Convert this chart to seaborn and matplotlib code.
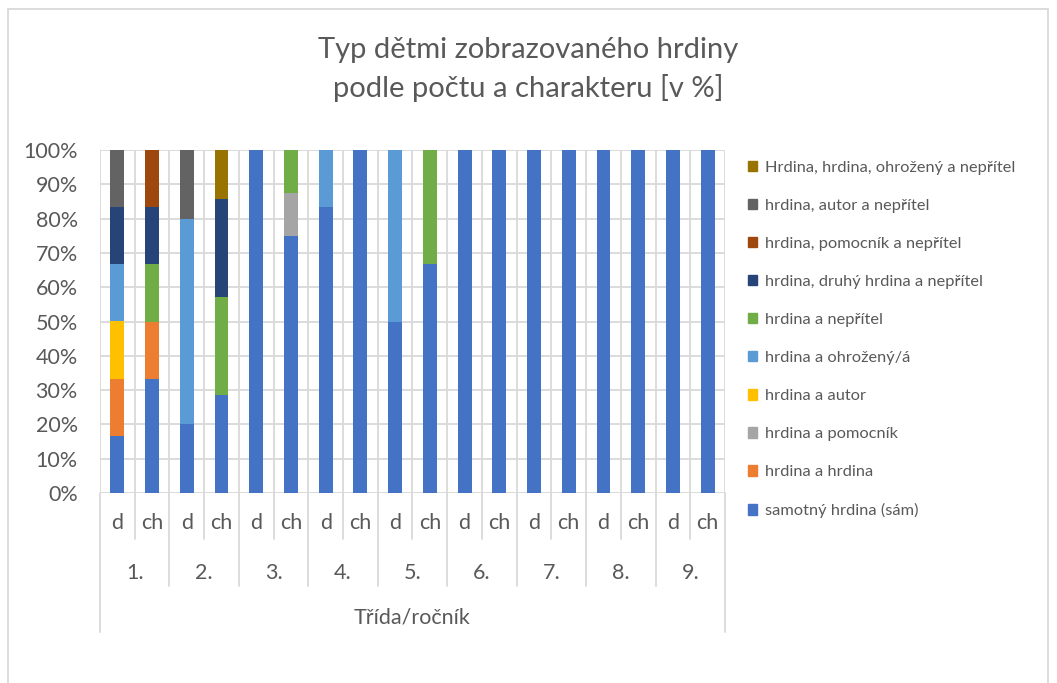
import matplotlib
matplotlib.use("Agg")
import matplotlib.pyplot as plt
import matplotlib.patches as mpatches
import matplotlib.transforms as mtransforms
import numpy as np
import pandas as pd
import seaborn as sns

# ---- data ----
classes = ["1.", "2.", "3.", "4.", "5.", "6.", "7.", "8.", "9."]
groups = ["d", "ch"]

series_names = [
    "samotný hrdina (sám)",
    "hrdina a hrdina",
    "hrdina a pomocník",
    "hrdina a autor",
    "hrdina a ohrožený/á",
    "hrdina a nepřítel",
    "hrdina, druhý hrdina a nepřítel",
    "hrdina, pomocník a nepřítel",
    "hrdina, autor a nepřítel",
    "Hrdina, hrdina, ohrožený a nepřítel",
]
series_colors = ["#4472C4", "#ED7D31", "#A5A5A5", "#FFC000", "#5B9BD5",
                 "#70AD47", "#264478", "#9E480E", "#636363", "#997300"]

#                 1d     1ch    2d  2ch    3d   3ch   4d    4ch  5d  5ch   6d   6ch  7d   7ch  8d   8ch  9d   9ch
samotny      = [16.67, 33.33, 20, 28.57, 100, 75.0, 83.33, 100, 50, 66.67, 100, 100, 100, 100, 100, 100, 100, 100]
hrdina_hrd   = [16.67, 16.67, 0, 0, 0, 0, 0, 0, 0, 0, 0, 0, 0, 0, 0, 0, 0, 0]
pomocnik     = [0, 0, 0, 0, 0, 12.5, 0, 0, 0, 0, 0, 0, 0, 0, 0, 0, 0, 0]
autor        = [16.67, 0, 0, 0, 0, 0, 0, 0, 0, 0, 0, 0, 0, 0, 0, 0, 0, 0]
ohrozeny     = [16.67, 0, 60, 0, 0, 0, 16.67, 0, 50, 0, 0, 0, 0, 0, 0, 0, 0, 0]
nepritel     = [0, 16.67, 0, 28.57, 0, 12.5, 0, 0, 0, 33.33, 0, 0, 0, 0, 0, 0, 0, 0]
druhy_nep    = [16.67, 16.67, 0, 28.57, 0, 0, 0, 0, 0, 0, 0, 0, 0, 0, 0, 0, 0, 0]
pomoc_nep    = [0, 16.66, 0, 0, 0, 0, 0, 0, 0, 0, 0, 0, 0, 0, 0, 0, 0, 0]
autor_nep    = [16.65, 0, 20, 0, 0, 0, 0, 0, 0, 0, 0, 0, 0, 0, 0, 0, 0, 0]
hho_nep      = [0, 0, 0, 14.29, 0, 0, 0, 0, 0, 0, 0, 0, 0, 0, 0, 0, 0, 0]

series_values = [samotny, hrdina_hrd, pomocnik, autor, ohrozeny, nepritel,
                 druhy_nep, pomoc_nep, autor_nep, hho_nep]

cats = [f"{c}{g}" for c in classes for g in groups]

# ---- style ----
sns.set_theme(style="white")
plt.rcParams["font.family"] = ["Lato", "DejaVu Sans"]
TXT = "#595959"
GRID = "#D9D9D9"
AXFS = 15.5

W, H = 1057, 683
fig = plt.figure(figsize=(W / 100, H / 100), dpi=100)
ax = fig.add_axes([100 / W, 1 - 493 / H, 625 / W, 343 / H])

# stacked bars via cumulative overlay
cum = np.cumsum(np.array(series_values), axis=0)
for i in range(len(series_names) - 1, -1, -1):
    df = pd.DataFrame({"cat": cats, "val": cum[i]})
    sns.barplot(data=df, x="cat", y="val", order=cats, color=series_colors[i],
                saturation=1, width=0.4, errorbar=None, linewidth=0, ax=ax,
                zorder=3)

ax.set_xlim(-0.5, len(cats) - 0.5)
ax.set_ylim(0, 100)
ax.set_yticks(np.arange(0, 101, 10))
ax.set_yticklabels([f"{v}%" for v in range(0, 101, 10)])
ax.tick_params(axis="y", length=0, pad=16, labelsize=AXFS, labelcolor=TXT)
ax.set_xticks([])
ax.set_xlabel("")
ax.set_ylabel("")
for s in ax.spines.values():
    s.set_visible(False)

# grid lines
for v in range(0, 101, 10):
    ax.axhline(v, color=GRID, lw=1.3, zorder=1)
trans = mtransforms.blended_transform_factory(ax.transData, ax.transAxes)
for k in range(len(cats) + 1):
    xb = k - 0.5
    ax.plot([xb, xb], [0, 1], transform=trans, color=GRID, lw=1.3, zorder=1)
    if k == 0 or k == len(cats):
        lo = -0.405
    elif k % 2 == 0:
        lo = -0.27
    else:
        lo = -0.135
    ax.plot([xb, xb], [0, lo], transform=trans, color=GRID, lw=1.3,
            clip_on=False, zorder=1)

# multi-level category labels
for j, c in enumerate(cats):
    ax.text(j, -30 / 343, groups[j % 2], transform=trans, ha="center",
            va="center", fontsize=AXFS, color=TXT)
for j, c in enumerate(classes):
    ax.text(2 * j + 0.5, -80 / 343, c, transform=trans, ha="center",
            va="center", fontsize=AXFS, color=TXT)
ax.text(0.5, -124 / 343, "Třída/ročník", transform=ax.transAxes, ha="center",
        va="center", fontsize=AXFS, color=TXT)

# title
fig.text(0.5, 1 - 50 / H, "Typ dětmi zobrazovaného hrdiny", ha="center",
         va="center", fontsize=21, color=TXT)
fig.text(0.5, 1 - 88 / H, "podle počtu a charakteru [v %]", ha="center",
         va="center", fontsize=21, color=TXT)

# legend
handles = [mpatches.Patch(color=series_colors[i], label=series_names[i])
           for i in range(len(series_names) - 1, -1, -1)]
fig.legend(handles=handles, loc="upper left",
           bbox_to_anchor=(741 / W, 1 - 154 / H), frameon=False,
           fontsize=11.8, labelcolor=TXT, handlelength=0.6, handleheight=0.6,
           handletextpad=0.45, labelspacing=1.47, borderaxespad=0)

# outer chart border
fig.patches.append(mpatches.Rectangle((8 / W, -0.01), (W - 9) / W - 8 / W,
                                      1 - 9 / H + 0.01, transform=fig.transFigure,
                                      fill=False, edgecolor=GRID, lw=1.3))

fig.savefig("out.png", dpi=100)
